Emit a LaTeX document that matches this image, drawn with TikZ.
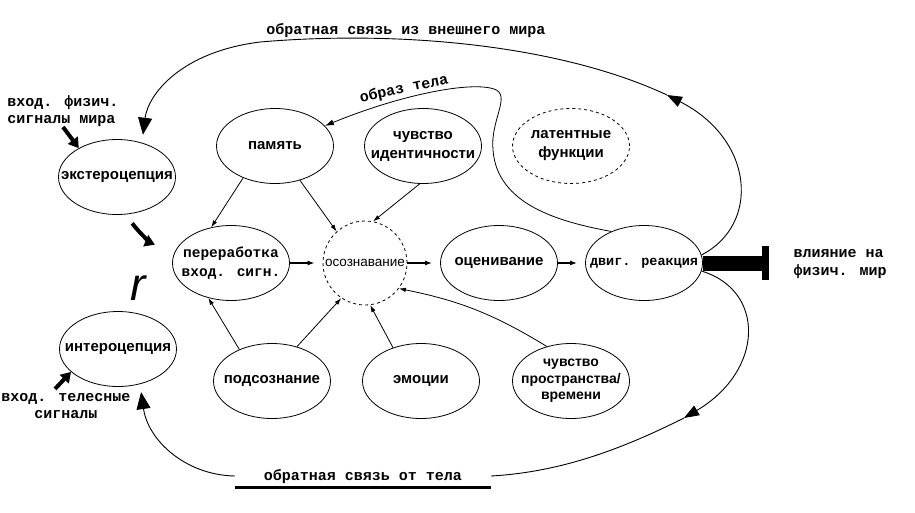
\documentclass[tikz,border=0pt]{standalone}
\usepackage{fontspec}
\setmainfont{Liberation Sans}
\newfontfamily\typefont{Liberation Mono}
\usetikzlibrary{
  shapes.geometric,
  positioning,
  arrows.meta}
\tikzset{
  %% stage : one stage of the processing
  stage/.style={
    ellipse,
    draw=black,
    line width=0.8pt,
    minimum width=117pt,
    minimum height=75pt,
    inner xsep=-25pt,
    inner ysep=0pt,
    align=center,
    font=\bfseries\fontsize{15}{19}\selectfont
  },
  %% typestage : a stage labelled in typewriter
  typestage/.style={
    stage,
    font=\typefont\bfseries\fontsize{14.5}{19}\selectfont
  },
  %% awarestage : awareness in the middle
  awarestage/.style={
    circle,
    draw=black,
    line width=0.8pt,
    dashed,
    minimum size=84pt,
    inner sep=0pt,
    font=\fontsize{13.5}{15}\selectfont
  },
  %% outlabel : text outside the stages
  outlabel/.style={
    inner sep=0pt,
    font=\typefont\bfseries\fontsize{15}{17.5}\selectfont
  },
  %% link : thin connection between stages
  link/.style={line width=0.8pt, -{Latex[length=7pt, width=4.5pt]}},
  %% flow : main flow along the middle row
  flow/.style={line width=1.4pt, shorten >=8pt, -{Latex[length=7pt, width=5pt]}},
  %% feedback : a feedback loop
  feedback/.style={line width=0.9pt, -{Triangle[length=17pt, width=14pt]}},
  %% midarrow : arrow half way round a loop
  midarrow/.style={line width=0.9pt, -{Triangle[length=15pt, width=11pt]}},
  %% fatarrow : short fat input arrow
  fatarrow/.style={line width=4pt, -{Triangle[length=10pt, width=12pt]}},
  %% impact : action on the world
  impact/.style={line width=15pt, -{Bar[width=34pt, line width=7pt]}}
}

\begin{document}
\begin{tikzpicture}
  [x=1pt,
  y=-1pt]
  \useasboundingbox (0,0) rectangle (915,512);

  %% Top row
  \node (memory) [stage] at (275,146) {память};
  \node (identity) [stage] at (423,146) {чувство\\идентичности};
  \node (latent) [stage, dashed] at (571,146) {латентные\\функции};

  %% Middle row
  \node (extero) [stage] at (117,177) {экстероцепция};
  \node (process) [typestage] at (231,263) {переработка\\вход. сигн.};
  \node (aware) [awarestage] at (365,263) {осознавание};
  \node (assess) [stage] at (499,263) {оценивание};
  \node (reaction) [typestage, font=\typefont\bfseries\fontsize{13.5}{16}\selectfont]
    at (644,263) {двиг. реакция};

  %% Bottom row
  \node (intero) [stage] at (118,349) {интероцепция};
  \node (subconscious) [stage] at (272,381) {подсознание};
  \node (emotion) [stage] at (421,381) {эмоции};
  \node (spacetime) [stage, font=\bfseries\fontsize{14}{16.5}\selectfont]
    at (571,381) {чувство\\пространства/\\времени};

  %% Labels
  \node (world fb) [outlabel] at (406,31) {обратная связь из внешнего мира};
  \node (body image) [outlabel, rotate=12] at (404,89) {образ тела};
  \node (world in) [outlabel, align=left] at (63,111) {вход. физич.\\сигналы мира};
  \node (body in) [outlabel, align=center] at (66,406) {вход. телесные\\сигналы};
  \node (effect) [outlabel, align=left] at (840,264) {влияние на\\физич. мир};
  \node (body fb) [outlabel, inner xsep=29pt, inner ysep=4pt,
    text height=11pt, text depth=3pt] at (363,476) {обратная связь от тела};
  \node (rmark) [inner sep=0pt, font=\itshape\fontsize{46}{46}\selectfont]
    at (138,288) {r};

  \coordinate (world turn) at (667,95);
  \coordinate (body turn) at (684,418);
  \coordinate (impact end) at (769,263);

  %% Connections
  \draw [link] (memory.225) -- (process.119);
  \draw [link] (memory.-54) -- (aware.132);
  \draw [link] (identity.-95) -- (aware.79);
  \draw [link] (subconscious.136) -- (process.237);
  \draw [link] (subconscious.54) -- (aware.236);
  \draw [link] (emotion.130) -- (aware.277);
  \draw [link] (spacetime.125) to[bend right=10] (aware.-37);
  \draw [flow] (process) -- (aware);
  \draw [flow] (aware) -- (assess);
  \draw [flow] (assess) -- (reaction);

  %% Inputs
  \draw [fatarrow] (world in.south) -- (extero.143);
  \draw [fatarrow, shorten <=11pt, shorten >=21pt]
    (extero.-77) to[bend right=15] (process.170);
  \draw [fatarrow] ([xshift=-11pt, yshift=4pt]body in.north) -- (intero.206);

  %% Feedback from the world
  \draw [midarrow] (reaction.8) .. controls (760,225) and (755,140) .. (world turn);
  \draw [feedback, shorten >=8pt] (world turn)
    .. controls (560,45) and (400,30) .. (260,42)
    .. controls (180,52) and (148,95) .. (extero.54);

  %% Body image
  \draw [link, -{Latex[length=9pt, width=6pt]}] (reaction.136)
    .. controls (560,222) and (497,205) .. (493,150)
    .. controls (490,120) and (512,95) .. (494,89)
    .. controls (470,81) and (400,95) .. (memory.22);

  %% Feedback from the body
  \draw [midarrow] (reaction.-8) .. controls (765,290) and (765,370) .. (body turn);
  \draw [line width=0.9pt] (body turn) .. controls (620,450) and (560,472) .. (body fb.east);
  \draw [feedback, shorten >=8pt] (body fb.west)
    .. controls (185,475) and (148,440) .. (intero.-58);
  \draw [line width=3pt] (body fb.south west) -- (body fb.south east);

  %% Output
  \draw [impact] (reaction.east) -- (impact end);

\end{tikzpicture}
\end{document}
